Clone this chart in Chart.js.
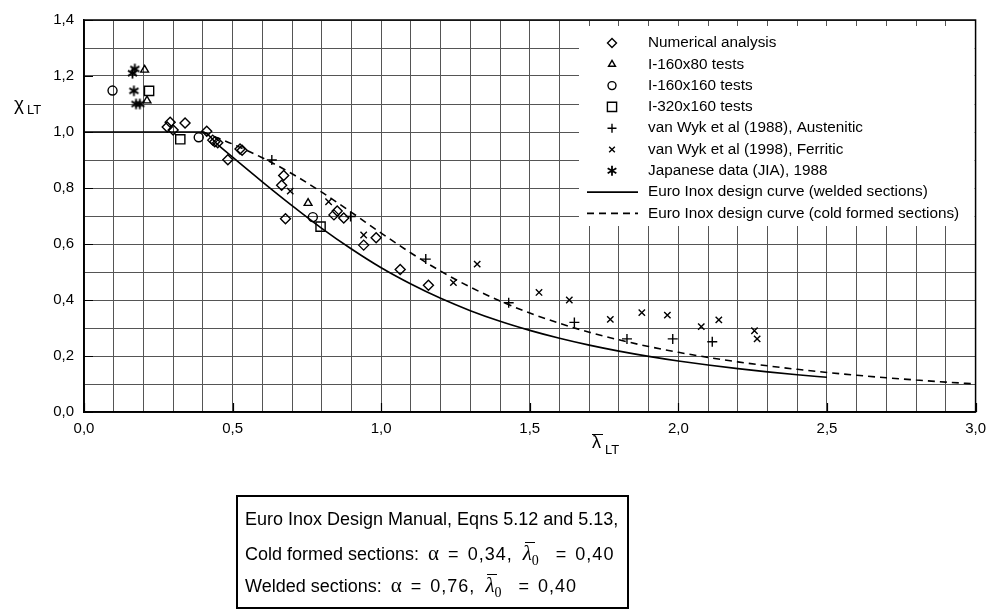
<!DOCTYPE html>
<html>
<head>
<meta charset="utf-8">
<script src="https://cdn.jsdelivr.net/npm/chart.js@4/dist/chart.umd.min.js"></script>
<style>
  html,body{margin:0;padding:0;background:#fff;}
  #wrap{position:relative;width:994px;height:610px;overflow:hidden;font-family:"Liberation Sans",Arial,sans-serif;}
  canvas#c{position:absolute;left:0;top:0;}
  .ttl{position:absolute;color:#000;white-space:nowrap;}
  #box{position:absolute;left:236px;top:495px;width:389px;height:110px;border:2px solid #000;font-size:18px;color:#000;}
  #box div{position:absolute;left:7px;white-space:nowrap;}
  .gr{font-family:"Liberation Serif","DejaVu Serif",serif;font-size:21px;margin-left:4px;}
  .eq{margin:0 4px;}
  .num{letter-spacing:1px;}
  .lam{font-family:"Liberation Serif","DejaVu Serif",serif;font-style:italic;font-size:21px;position:relative;margin-left:5px;}
  .lam .bar{position:absolute;left:2px;top:1px;width:10px;border-top:1px solid #000;}
  .sub0{font-family:"Liberation Serif",serif;font-size:14px;position:relative;top:5px;margin-right:8px;}
</style>
</head>
<body>
<div id="wrap">
  <canvas id="c" width="994" height="610"></canvas>
  <div class="ttl" style="left:14px;top:93px;font-size:19px;">&chi;<span style="font-size:13px;position:relative;top:4px;margin-left:3px;">LT</span></div>
  <div class="ttl" style="left:592px;top:432px;font-size:18px;"><span style="position:relative;">&lambda;<span style="position:absolute;left:0;top:2px;width:11px;border-top:1.5px solid #000;"></span></span><span style="font-size:13px;position:relative;top:6px;margin-left:4px;">LT</span></div>
  <div id="box">
    <div style="top:12px;">Euro Inox Design Manual, Eqns 5.12 and 5.13,</div>
    <div style="top:44px;">Cold formed sections: <span class="gr">&alpha;</span> <span class="eq">=</span> <span class="num">0,34,</span> <span class="lam">&lambda;<span class="bar"></span></span><span class="sub0">0</span> <span class="eq">=</span> <span class="num">0,40</span></div>
    <div style="top:76px;">Welded sections: <span class="gr">&alpha;</span> <span class="eq">=</span> <span class="num">0,76,</span> <span class="lam">&lambda;<span class="bar"></span></span><span class="sub0">0</span> <span class="eq">=</span> <span class="num">0,40</span></div>
  </div>
</div>
<script>
// ---- data ----
const numericalX = [0.28, 0.29, 0.30, 0.34, 0.413, 0.433, 0.44, 0.45, 0.484, 0.525, 0.532, 0.672, 0.665, 0.678, 0.841, 0.852, 0.874, 0.941, 0.983, 1.064, 1.159];
const numericalY = [1.018, 1.035, 1.007, 1.032, 1.003, 0.971, 0.965, 0.962, 0.901, 0.939, 0.935, 0.845, 0.810, 0.690, 0.704, 0.718, 0.693, 0.596, 0.622, 0.509, 0.453];

const i160x80X = [0.204, 0.212, 0.754];
const i160x80Y = [1.222, 1.112, 0.746];

const i160x160X = [0.096, 0.386, 0.770];
const i160x160Y = [1.148, 0.981, 0.696];

const i320x160X = [0.219, 0.324, 0.796];
const i320x160Y = [1.147, 0.974, 0.662];

const austeniticX = [0.632, 0.897, 1.150, 1.429, 1.650, 1.827, 1.981, 2.114];
const austeniticY = [0.900, 0.698, 0.546, 0.390, 0.320, 0.261, 0.261, 0.251];

const ferriticX = [0.694, 0.823, 0.941, 1.243, 1.323, 1.531, 1.633, 1.771, 1.877, 1.963, 2.077, 2.136, 2.256, 2.265];
const ferriticY = [0.789, 0.751, 0.632, 0.462, 0.528, 0.427, 0.400, 0.331, 0.355, 0.346, 0.305, 0.329, 0.290, 0.261];

const japaneseX = [0.163, 0.171, 0.168, 0.175, 0.188];
const japaneseY = [1.210, 1.225, 1.147, 1.100, 1.100];

const weldedX = [0, 0.4, 0.45, 0.5, 0.6, 0.7, 0.8, 0.9, 1.0, 1.1, 1.2, 1.3, 1.4, 1.5, 1.6, 1.7, 1.8, 1.9, 2.0, 2.1, 2.2, 2.3, 2.4, 2.5];
const weldedY = [1.0, 1.0, 0.955, 0.910, 0.822, 0.737, 0.656, 0.582, 0.515, 0.457, 0.406, 0.362, 0.324, 0.2915, 0.2633, 0.2388, 0.2174, 0.1987, 0.1822, 0.1677, 0.1548, 0.1434, 0.1331, 0.1239];

const coldX = [0.4, 0.45, 0.5, 0.6, 0.7, 0.8, 0.9, 1.0, 1.1, 1.2, 1.3, 1.4, 1.5, 1.6, 1.7, 1.8, 1.9, 2.0, 2.1, 2.2, 2.3, 2.4, 2.5, 2.6, 2.7, 2.8, 2.9, 3.0];
const coldY = [1.0, 0.979, 0.957, 0.908, 0.851, 0.785, 0.713, 0.639, 0.568, 0.503, 0.446, 0.3963, 0.3535, 0.3167, 0.2850, 0.2577, 0.2339, 0.2132, 0.1950, 0.1790, 0.1649, 0.1524, 0.1412, 0.1312, 0.1222, 0.1141, 0.1068, 0.1002];

const legendLabels = ["Numerical analysis", "I-160x80 tests", "I-160x160 tests", "I-320x160 tests",
  "van Wyk et al (1988), Austenitic", "van Wyk et al (1998), Ferritic", "Japanese data (JIA), 1988",
  "Euro Inox design curve (welded sections)", "Euro Inox design curve (cold formed sections)"];

// asterisk marker (6 arms)
function asteriskPath(ctx, x, y, r) {
  ctx.moveTo(x, y - r); ctx.lineTo(x, y + r);
  const dx = r * 0.87, dy = r * 0.5;
  ctx.moveTo(x - dx, y - dy); ctx.lineTo(x + dx, y + dy);
  ctx.moveTo(x - dx, y + dy); ctx.lineTo(x + dx, y - dy);
}
const starImg = document.createElement('canvas');
starImg.width = 13; starImg.height = 13;
(function () { const g = starImg.getContext('2d'); g.strokeStyle = '#000'; g.lineWidth = 1.8; g.beginPath(); asteriskPath(g, 6.5, 6.5, 5.2); g.stroke(); })();

// ---- build datasets ----
const pts = (xs, ys) => xs.map((x, i) => ({x: x, y: ys[i]}));
function scatterDs(label, xs, ys, style, r) {
  return {type: 'scatter', label, data: pts(xs, ys), pointStyle: style, pointRadius: r, pointHoverRadius: r,
    pointBorderWidth: 1.4, borderColor: '#000', backgroundColor: 'rgba(0,0,0,0)', showLine: false, order: 1};
}
const datasets = [
  scatterDs(legendLabels[0], numericalX, numericalY, 'rectRot', 5),
  scatterDs(legendLabels[1], i160x80X, i160x80Y, 'triangle', 4.5),
  scatterDs(legendLabels[2], i160x160X, i160x160Y, 'circle', 4.5),
  scatterDs(legendLabels[3], i320x160X, i320x160Y, 'rect', 6.5),
  scatterDs(legendLabels[4], austeniticX, austeniticY, 'cross', 5),
  scatterDs(legendLabels[5], ferriticX, ferriticY, 'crossRot', 4.5),
  scatterDs(legendLabels[6], japaneseX, japaneseY, starImg, 6),
  {type: 'line', label: legendLabels[7], data: pts(weldedX, weldedY), borderColor: '#000', borderWidth: 1.6,
    pointRadius: 0, fill: false, cubicInterpolationMode: 'monotone', order: 2},
  {type: 'line', label: legendLabels[8], data: pts(coldX, coldY), borderColor: '#000', borderWidth: 1.6,
    borderDash: [7, 5], pointRadius: 0, fill: false, cubicInterpolationMode: 'monotone', order: 2}
];

const fmt = v => v.toFixed(1).replace('.', ',');

function drawMarker(ctx, style, x, y, r) {
  ctx.save();
  ctx.strokeStyle = '#000'; ctx.lineWidth = 1.4; ctx.beginPath();
  if (style === 'rectRot') { ctx.moveTo(x, y - r); ctx.lineTo(x + r, y); ctx.lineTo(x, y + r); ctx.lineTo(x - r, y); ctx.closePath(); }
  else if (style === 'triangle') { ctx.moveTo(x, y - r); ctx.lineTo(x + r * 0.87, y + r * 0.5); ctx.lineTo(x - r * 0.87, y + r * 0.5); ctx.closePath(); }
  else if (style === 'circle') { ctx.arc(x, y, r, 0, Math.PI * 2); }
  else if (style === 'rect') { const s = r * Math.SQRT1_2; ctx.rect(x - s, y - s, 2 * s, 2 * s); }
  else if (style === 'cross') { ctx.moveTo(x - r, y); ctx.lineTo(x + r, y); ctx.moveTo(x, y - r); ctx.lineTo(x, y + r); }
  else if (style === 'crossRot') { const s = r * Math.SQRT1_2; ctx.moveTo(x - s, y - s); ctx.lineTo(x + s, y + s); ctx.moveTo(x - s, y + s); ctx.lineTo(x + s, y - s); }
  else if (style === 'star') { ctx.lineWidth = 1.8; asteriskPath(ctx, x, y, r); }
  ctx.stroke(); ctx.restore();
}

const extras = {
  id: 'extras',
  beforeDatasetsDraw(chart) {
    const {ctx, chartArea: a, scales} = chart;
    ctx.save(); ctx.strokeStyle = '#000'; ctx.lineWidth = 1.2; ctx.beginPath();
    for (let v = 0; v <= 1.4001; v += 0.2) { const y = Math.round(scales.y.getPixelForValue(v)) + 0.5; ctx.moveTo(a.left, y); ctx.lineTo(a.left + 9, y); }
    for (let v = 0; v <= 3.0001; v += 0.5) { const x = Math.round(scales.x.getPixelForValue(v)) + 0.5; ctx.moveTo(x, a.bottom); ctx.lineTo(x, a.bottom - 9); }
    ctx.stroke();
    ctx.fillStyle = '#fff';
    ctx.fillRect(579, 26, a.right - 579 - 1, 200);
    ctx.restore();
  },
  afterDatasetsDraw(chart) {
    const {ctx, chartArea: a} = chart;
    ctx.save();
    ctx.font = '15.3px "Liberation Sans", Arial, sans-serif';
    ctx.fillStyle = '#000'; ctx.textBaseline = 'middle'; ctx.textAlign = 'left';
    const styles = ['rectRot', 'triangle', 'circle', 'rect', 'cross', 'crossRot', 'star'];
    const radii = [4.5, 4, 4, 6.5, 4.5, 4, 5];
    for (let i = 0; i < legendLabels.length; i++) {
      const y = 43 + i * 21.3;
      if (i < 7) drawMarker(ctx, styles[i], 612, y, radii[i]);
      else {
        ctx.save(); ctx.strokeStyle = '#000'; ctx.lineWidth = 1.6;
        if (i === 8) ctx.setLineDash([7, 5]);
        ctx.beginPath(); ctx.moveTo(587, y); ctx.lineTo(638, y); ctx.stroke(); ctx.restore();
      }
      ctx.fillText(legendLabels[i], 648, y);
    }
    ctx.strokeStyle = '#000'; ctx.lineWidth = 1.5;
    ctx.strokeRect(a.left, a.top, a.right - a.left, a.bottom - a.top);
    ctx.restore();
  }
};

new Chart(document.getElementById('c'), {
  data: {datasets},
  options: {
    responsive: false, animation: false,
    layout: {padding: {left: 0, top: 20, right: 16, bottom: 168}},
    plugins: {legend: {display: false}, tooltip: {enabled: false}},
    scales: {
      x: {type: 'linear', min: 0, max: 3,
        afterFit: s => { s.height = 30; },
        grid: {color: '#555', lineWidth: 1, drawTicks: false},
        border: {display: true, color: '#000', width: 1.5},
        ticks: {stepSize: 0.1, autoSkip: false, maxRotation: 0, padding: 8, color: '#000',
          font: {family: '"Liberation Sans", Arial, sans-serif', size: 15},
          callback: v => (Math.round(v * 10) % 5 === 0 ? fmt(v) : '')}
      },
      y: {type: 'linear', min: 0, max: 1.4,
        afterFit: s => { s.width = 84; },
        grid: {color: '#555', lineWidth: 1, drawTicks: false},
        border: {display: true, color: '#000', width: 1.5},
        ticks: {stepSize: 0.1, autoSkip: false, padding: 10, color: '#000',
          font: {family: '"Liberation Sans", Arial, sans-serif', size: 15},
          callback: v => (Math.round(v * 10) % 2 === 0 ? fmt(v) : '')}
      }
    }
  },
  plugins: [extras]
});
</script>
</body>
</html>
